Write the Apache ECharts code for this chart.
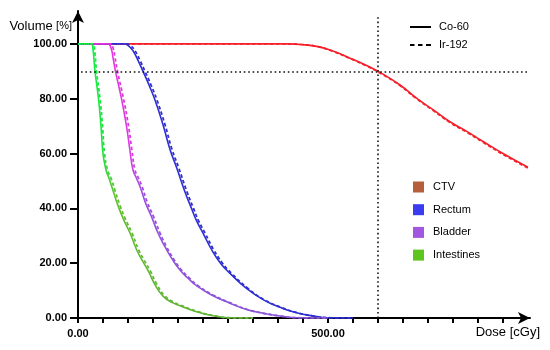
<!DOCTYPE html>
<html>
<head>
<meta charset="utf-8">
<script src="https://cdn.jsdelivr.net/npm/echarts@6/dist/echarts.min.js"></script>
<style>html,body{margin:0;padding:0;background:#fff}#c{width:550px;height:350px}</style>
</head>
<body>
<div id="c"></div>
<script>
// ---- data: [dose cGy, volume %] ----
const ctvCo = [[0,100],[420,100],[445,99.8],[480,99],[511,97.3],[544,94.8],[575,92.3],[601,89.9],[644,85],[677,80.2],[710,76],[744,71.6],[780,67.8],[811,64.3],[850,60],[900,55]];
const ctvIr = [[0,100],[420,100],[445,99.8],[480,99],[511,97.2],[544,94.7],[575,92.1],[601,89.7],[644,84.8],[677,80],[710,75.8],[744,71.3],[780,67.5],[811,64],[850,59.7],[900,54.7]];
const rectumCo = [[0,100],[92,100],[100,99.5],[110,97.5],[120,94],[130,90],[142,85],[154,79.5],[170,70.5],[184,61.5],[197,55],[214,46],[227,40],[237,35.5],[250,31],[267,25],[285,20],[304,16.3],[337,10.8],[371,6.6],[404,3.9],[437,1.9],[471,0.7],[500,0.1],[550,0]];
const rectumIr = [[0,100],[96,100],[104,99.5],[114,97.5],[124,94],[134,90],[146,85],[158,79.5],[174,70.5],[188,61.5],[201,55],[218,46],[231,40],[241,35.5],[254,31],[271,25],[289,20],[307,16.3],[340,10.8],[373,6.6],[406,3.9],[439,1.9],[472,0.7],[500,0.1],[550,0]];
const bladderCo = [[0,100],[60,100],[66,98.5],[70,95],[75,90],[87,80],[97,70],[104,61],[110,54],[117,51],[124,48],[135,42],[147,37],[160,31],[174,26],[190,21],[204,17.5],[220,14.5],[237,11.8],[267,8.4],[304,5.4],[337,3.1],[371,1.7],[404,0.7],[440,0.1],[500,0]];
const bladderIr = [[0,100],[64,100],[70,98.5],[74,95],[79,90],[91,80],[101,70],[108,61],[114,54],[121,51],[128,48],[139,42],[151,37],[164,31],[177,26],[193,21],[207,17.5],[223,14.5],[240,11.8],[270,8.4],[306,5.4],[339,3.1],[372,1.7],[405,0.7],[440,0.1],[500,0]];
const intestinesCo = [[0,100],[27,100],[30,98],[34,90],[41,80],[46,70],[50,60],[56,54],[62,51],[70,46.5],[80,41],[91,36],[104,31],[117,25],[127,21.5],[141,17],[153,12.5],[170,8],[190,5.5],[204,4.5],[237,2.3],[271,0.8],[300,0.1],[350,0]];
const intestinesIr = [[0,100],[30,100],[33,98],[37,90],[44,80],[49,70],[53,60],[59,54],[66,51],[74,46.5],[84,41],[95,36],[108,31],[121,25],[131,21.5],[145,17],[157,12.5],[174,8],[194,5.5],[207,4.5],[240,2.3],[273,0.8],[300,0.1],[350,0]];

const structures = ['CTV','Rectum','Bladder','Intestines'];
const sources = ['Co-60','Ir-192'];
const yTicks = [0,20,40,60,80,100];
const xTicks = [0,50,100,150,200,250,300,350,400,450,500,550,600,650,700,750,800,850];
const xLabels = [0,500];
const refDose = 600;
const refVolume = 90;
const refLineX = [6, 898];
const refLineY = [0, 110];
const xMax = 904, yMax = 112;

// ---- styles ----
const legendColors = {'CTV':'#b5603a','Rectum':'#3b3bef','Bladder':'#a157e0','Intestines':'#5ec41e'};
const grad = (stops) => ({type:'linear',x:0,y:0,x2:0,y2:1,colorStops:stops.map(s=>({offset:s[0],color:s[1]}))});
const lineColors = {
  'CTV':'#f5202a',
  'Rectum':'#2e2ed2',
  'Bladder':grad([[0,'#e535e0'],[0.4,'#d83de0'],[0.56,'#9a50e0'],[1,'#8a55d8']]),
  'Intestines':grad([[0,'#10ee40'],[0.4,'#25e040'],[0.56,'#60c030'],[1,'#62b335']])
};
const dataCo = {'CTV':ctvCo,'Rectum':rectumCo,'Bladder':bladderCo,'Intestines':intestinesCo};
const dataIr = {'CTV':ctvIr,'Rectum':rectumIr,'Bladder':bladderIr,'Intestines':intestinesIr};

const FONT = 'Liberation Sans';
const series = [];
structures.forEach(function(s){
  series.push({name:s,type:'line',data:dataCo[s],showSymbol:false,symbol:'none',smooth:0.5,
    itemStyle:{color:legendColors[s]},lineStyle:{color:lineColors[s],width:1.6,type:'solid'},z:3});
});
structures.forEach(function(s){
  series.push({name:s,type:'line',data:dataIr[s],showSymbol:false,symbol:'none',smooth:0.5,
    itemStyle:{color:legendColors[s]},lineStyle:{color:lineColors[s],width:1.8,type:[3.5,2.5]},z:3});
});
series.push({name:'Co-60',type:'line',data:[],symbol:'none',itemStyle:{color:'#000'},lineStyle:{color:'#000'}});
series.push({name:'Ir-192',type:'line',data:[],symbol:'none',itemStyle:{color:'#000'},lineStyle:{color:'#000',type:'dashed'},
  markLine:{silent:true,symbol:'none',label:{show:false},lineStyle:{color:'#111',width:1.6,type:[1.6,2.8]},
    data:[
      [{coord:[refLineX[0],refVolume]},{coord:[refLineX[1],refVolume]}],
      [{coord:[refDose,refLineY[0]]},{coord:[refDose,refLineY[1]]}]
    ]}
});

const chart = echarts.init(document.getElementById('c'));
chart.setOption({
  animation:false,
  backgroundColor:'#fff',
  textStyle:{fontFamily:FONT},
  grid:{left:78,right:20,top:11,bottom:32,containLabel:false},
  legend:[{
    data:[
      {name:sources[0],icon:'path://M0,0h21v2h-21z'},
      {name:sources[1],icon:'path://M0,0h4.5v2h-4.5zM8,0h4.5v2h-4.5zM16,0h5v2h-5z'}
    ],
    orient:'vertical',left:405,top:15,itemWidth:21,itemHeight:2,itemGap:4,selectedMode:false,
    textStyle:{fontFamily:FONT,fontSize:11,color:'#000',lineHeight:14,padding:[0,0,0,3]}
  },{
    data:structures.map(s=>({name:s,icon:'rect',itemStyle:{color:legendColors[s],borderWidth:0}})),
    orient:'vertical',left:408,top:176,itemWidth:11,itemHeight:11,itemGap:10.7,selectedMode:false,
    textStyle:{fontFamily:FONT,fontSize:11,color:'#000',lineHeight:12,padding:[0,0,0,4]}
  }],
  xAxis:{
    type:'value',min:0,max:xMax,
    name:'Dose [cGy]',nameLocation:'end',nameGap:10,
    nameTextStyle:{fontFamily:FONT,fontSize:13,color:'#000',align:'right',verticalAlign:'top',padding:[8,0,0,0]},
    axisLine:{show:true,onZero:false,lineStyle:{color:'#000',width:2},symbol:['none','arrow'],symbolSize:[9,12]},
    axisTick:{show:true,length:5,lineStyle:{color:'#000',width:2},customValues:xTicks},
    axisLabel:{show:true,margin:10,fontFamily:FONT,fontSize:11,fontWeight:'bold',color:'#000',customValues:xLabels,
      formatter:v=>v.toFixed(2)},
    splitLine:{show:false}
  },
  yAxis:{
    type:'value',min:0,max:yMax,
    name:'{a|Volume} {b|[%]}',nameLocation:'end',nameGap:-15,
    nameTextStyle:{fontFamily:FONT,align:'right',verticalAlign:'middle',padding:[0,6,0,0],
      rich:{a:{fontFamily:FONT,fontSize:13,color:'#000'},b:{fontFamily:FONT,fontSize:11,color:'#000'}}},
    axisLine:{show:true,onZero:false,lineStyle:{color:'#000',width:2},symbol:['none','arrow'],symbolSize:[9,12]},
    axisTick:{show:true,length:8,lineStyle:{color:'#000',width:2},customValues:yTicks},
    axisLabel:{show:true,margin:11,fontFamily:FONT,fontSize:11,fontWeight:'bold',color:'#000',customValues:yTicks,
      formatter:v=>v.toFixed(2)},
    splitLine:{show:false}
  },
  series:series
});
</script>
</body>
</html>
